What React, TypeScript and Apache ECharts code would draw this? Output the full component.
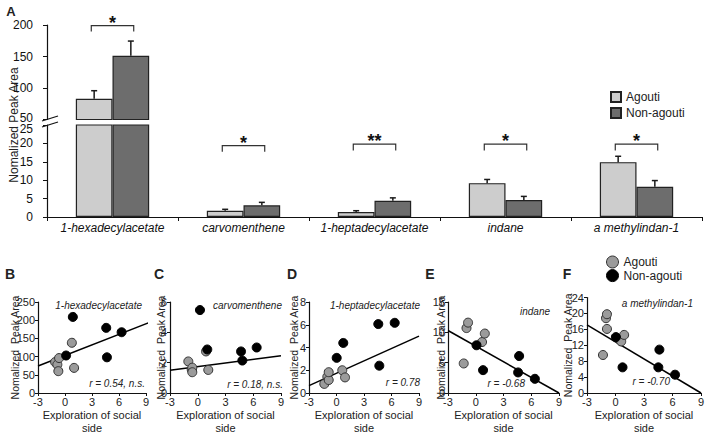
import React, { useEffect, useRef } from 'react';
import * as echarts from 'echarts';

const FONT = 'Liberation Sans, Arial, Helvetica, sans-serif';

// ---------- Panel A data ----------
const compounds = ['1-hexadecylacetate', 'carvomenthene', '1-heptadecylacetate', 'indane', 'a methylindan-1'];
const agoutiMean = [83, 1.71, 1.36, 9.2, 14.9];
const agoutiSem = [12.7, 0.38, 0.35, 1.0, 1.6];
const nonAgoutiMean = [151, 3.18, 4.4, 4.6, 8.2];
const nonAgoutiSem = [23.5, 0.8, 0.8, 1.0, 1.7];
const significance = ['*', '*', '**', '*', '*'];
const bracketTop = [199, 19.4, 19.8, 19.8, 19.8];
const bracketLeg = [189.5, 17.7, 18.1, 18.1, 18.1];
const upperTicks = [50, 100, 150, 200];
const lowerTicks = [0, 5, 10, 15, 20, 25];

// ---------- Panels B-F data ([exploration, peak area]) ----------
const hexAgouti = [[-1.1, 85], [-0.85, 78], [-0.74, 60], [-0.66, 96], [0.76, 138], [1.01, 69]];
const hexNonAgouti = [[0.12, 103], [0.87, 209], [4.58, 179], [4.66, 98], [6.29, 167]];
const hexFit = [[-3, 74], [9.6, 196]];

const carvoAgouti = [[-1.02, 2.08], [-0.65, 1.54], [-0.59, 1.67], [-0.59, 1.37], [0.89, 2.74], [1.14, 1.52]];
const carvoNonAgouti = [[0.24, 5.47], [1.03, 2.87], [4.68, 2.74], [4.82, 2.14], [6.37, 3.0]];
const carvoFit = [[-3, 1.5], [9, 2.45]];

const heptAgouti = [[-1.33, 0.8], [-1.0, 1.43], [-0.85, 1.14], [-0.85, 1.83], [0.63, 2.0], [0.93, 1.37]];
const heptNonAgouti = [[0.02, 3.09], [0.74, 4.4], [4.56, 6.06], [4.67, 2.4], [6.35, 6.17]];
const heptFit = [[-3, 0.65], [9, 5.0]];

const indAgouti = [[-1.3, 4.87], [-1.0, 10.7], [-0.83, 11.6], [0.68, 8.4], [0.98, 9.8]];
const indNonAgouti = [[0.08, 7.87], [0.79, 3.77], [4.58, 3.39], [4.69, 6.1], [6.39, 2.34]];
const indFit = [[-3, 10.3], [9, 0]];

const methAgouti = [[-1.32, 9.55], [-1.0, 18.8], [-0.9, 19.8], [-0.9, 16.1], [0.6, 12.95], [0.91, 14.6]];
const methNonAgouti = [[0.04, 14.05], [0.74, 6.45], [4.51, 6.45], [4.62, 10.9], [6.27, 4.6]];
const methFit = [[-3, 17.1], [9, 0]];

const xTicks = [-3, 0, 3, 6, 9];
const panelLetters = ['B', 'C', 'D', 'E', 'F'];
const rLabels = ['r = 0.54, n.s.', 'r = 0.18, n.s.', 'r = 0.78', 'r = -0.68', 'r = -0.70'];
const yMax = [250, 6, 8, 15, 24];
const yInterval = [50, 2, 2, 5, 4];
const agoutiSets = [hexAgouti, carvoAgouti, heptAgouti, indAgouti, methAgouti];
const nonAgoutiSets = [hexNonAgouti, carvoNonAgouti, heptNonAgouti, indNonAgouti, methNonAgouti];
const fitSets = [hexFit, carvoFit, heptFit, indFit, methFit];

// ---------- layout ----------
const layout = [
  { left: 38, top: 302, width: 108, height: 93, nameGap: 18, letterX: 10, titleRight: 142, titleY: 305, rRight: 145, rY: 383 },
  { left: 170, top: 302, width: 111, height: 93, nameGap: 4, letterX: 159, titleRight: 282, titleY: 305, rRight: 283, rY: 384 },
  { left: 309, top: 302, width: 110, height: 93, nameGap: 10, letterX: 292, titleRight: 420, titleY: 305, rRight: 420, rY: 382 },
  { left: 448, top: 302, width: 111, height: 92, nameGap: 2, letterX: 430, titleRight: 550, titleY: 311, rRight: 525, rY: 383 },
  { left: 587, top: 297.5, width: 114, height: 96, nameGap: 14, letterX: 567, titleRight: 693, titleY: 303, rRight: 670, rY: 381 },
];

const LIGHT = '#cdcdcd';
const DARK = '#6d6d6d';
const GRAYDOT = '#9b9b9b';

export default function App() {
  const ref = useRef<HTMLDivElement>(null);

  useEffect(() => {
    if (!ref.current) return;
    const chart = echarts.init(ref.current, null, { renderer: 'svg' });
    const upperMin = upperTicks[0];
    const upperMax = upperTicks[upperTicks.length - 1];
    const lowerMax = lowerTicks[lowerTicks.length - 1];

    const axisLine = { show: true, onZero: false, lineStyle: { color: '#111', width: 1.2 } };

    const errorRender = (params: any, api: any) => {
      const cat = api.value(0);
      const mean = api.value(1);
      const err = api.value(2);
      const side = api.value(3);
      const band = api.size([1, 0])[0];
      const base = api.coord([cat, mean]);
      const top = api.coord([cat, mean + err]);
      const x = base[0] + side * band * 0.14;
      const st = { stroke: '#1a1a1a', lineWidth: 1.5 };
      return {
        type: 'group',
        children: [
          { type: 'line', shape: { x1: x, y1: base[1], x2: x, y2: top[1] }, style: st },
          { type: 'line', shape: { x1: x - 3, y1: top[1], x2: x + 3, y2: top[1] }, style: st },
        ],
      };
    };

    const bracketRender = (params: any, api: any) => {
      const cat = api.value(0);
      const t = api.value(1);
      const l = api.value(2);
      const band = api.size([1, 0])[0];
      const pt = api.coord([cat, t]);
      const pl = api.coord([cat, l]);
      const hw = band * 0.162;
      return {
        type: 'group',
        children: [
          {
            type: 'polyline',
            shape: { points: [[pt[0] - hw, pl[1]], [pt[0] - hw, pt[1]], [pt[0] + hw, pt[1]], [pt[0] + hw, pl[1]]] },
            style: { stroke: '#333', lineWidth: 1.2, fill: 'none' },
          },
          {
            type: 'text',
            style: {
              text: significance[cat], x: pt[0], y: pt[1] - 3, align: 'center', verticalAlign: 'middle',
              fontSize: 18, fontWeight: 'bold', fontFamily: FONT, fill: '#111',
            },
          },
        ],
      };
    };

    const catIdx = compounds.map((_, i) => i);
    const errUpper: number[][] = [];
    const errLower: number[][] = [];
    catIdx.forEach((i) => {
      const a = [i, agoutiMean[i], agoutiSem[i], -1];
      const b = [i, nonAgoutiMean[i], nonAgoutiSem[i], 1];
      (agoutiMean[i] >= upperMin ? errUpper : errLower).push(a);
      (nonAgoutiMean[i] >= upperMin ? errUpper : errLower).push(b);
    });
    const brUpper = catIdx.filter((i) => bracketTop[i] > lowerMax).map((i) => [i, bracketTop[i], bracketLeg[i]]);
    const brLower = catIdx.filter((i) => bracketTop[i] <= lowerMax).map((i) => [i, bracketTop[i], bracketLeg[i]]);

    const grids: any[] = [
      { left: 47, top: 25, width: 655, height: 94.5 },
      { left: 47, top: 125, width: 655, height: 92 },
      ...layout.map((l) => ({ left: l.left, top: l.top, width: l.width, height: l.height })),
    ];

    const xAxes: any[] = [
      { type: 'category', gridIndex: 0, data: compounds, show: false },
      {
        type: 'category', gridIndex: 1, data: compounds,
        axisLine, axisTick: { show: true, length: 4, lineStyle: { color: '#111' } },
        axisLabel: { interval: 0, fontSize: 12, fontStyle: 'italic', color: '#111', margin: 5, fontFamily: FONT },
      },
      ...layout.map((l, i) => ({
        type: 'value', gridIndex: i + 2, min: xTicks[0], max: xTicks[xTicks.length - 1], interval: 3,
        axisLine, axisTick: { show: true, length: 3, lineStyle: { color: '#111' } },
        splitLine: { show: false },
        axisLabel: { fontSize: 11, color: '#222', margin: 3, fontFamily: FONT },
        name: 'Exploration of social\nside', nameLocation: 'middle', nameGap: 16, nameMoveOverlap: false,
        nameTextStyle: { fontSize: 11, color: '#222', lineHeight: 12.5, fontFamily: FONT },
      })),
    ];

    const yAxes: any[] = [
      {
        type: 'value', gridIndex: 0, min: upperMin, max: upperMax, interval: 50,
        axisLine, axisTick: { show: true, length: 4, lineStyle: { color: '#111' } },
        splitLine: { show: false },
        axisLabel: {
          fontSize: 12, color: '#111', margin: 14, fontFamily: FONT,
          formatter: (v: number) => (v === upperMin ? `{lo|${v}}` : `${v}`),
          rich: { lo: { fontSize: 12, color: '#111', fontFamily: FONT, padding: [0, 0, 3, 0] } },
        },
      },
      {
        type: 'value', gridIndex: 1, min: 0, max: lowerMax, interval: 5,
        axisLine, axisTick: { show: true, length: 4, lineStyle: { color: '#111' } },
        splitLine: { show: false },
        axisLabel: {
          fontSize: 12, color: '#111', margin: 14, fontFamily: FONT,
          formatter: (v: number) => (v === lowerMax ? `{hi|${v}}` : `${v}`),
          rich: { hi: { fontSize: 12, color: '#111', fontFamily: FONT, padding: [8, 0, 0, 0] } },
        },
      },
      ...layout.map((l, i) => ({
        type: 'value', gridIndex: i + 2, min: 0, max: yMax[i], interval: yInterval[i],
        axisLine, axisTick: { show: true, length: 3, lineStyle: { color: '#111' } },
        splitLine: { show: false },
        axisLabel: { fontSize: 11, color: '#222', margin: 3, fontFamily: FONT },
        name: 'Nomalized  Peak Area', nameLocation: 'middle', nameGap: l.nameGap, nameMoveOverlap: false,
        nameTextStyle: { fontSize: 10.5, color: '#222', fontFamily: FONT },
      })),
    ];

    const barCommon = { type: 'bar', barWidth: '28%', barGap: '0%', clip: true };
    const series: any[] = [
      { ...barCommon, name: 'Agouti', xAxisIndex: 0, yAxisIndex: 0, data: agoutiMean.map((v) => (v >= upperMin ? v : '-')), itemStyle: { color: LIGHT, borderColor: '#222', borderWidth: 1.2 } },
      { ...barCommon, name: 'Non-agouti', xAxisIndex: 0, yAxisIndex: 0, data: nonAgoutiMean.map((v) => (v >= upperMin ? v : '-')), itemStyle: { color: DARK, borderColor: '#222', borderWidth: 1.2 } },
      { ...barCommon, name: 'Agouti', xAxisIndex: 1, yAxisIndex: 1, data: agoutiMean, itemStyle: { color: LIGHT, borderColor: '#222', borderWidth: 1.2 } },
      { ...barCommon, name: 'Non-agouti', xAxisIndex: 1, yAxisIndex: 1, data: nonAgoutiMean, itemStyle: { color: DARK, borderColor: '#222', borderWidth: 1.2 } },
      { type: 'custom', xAxisIndex: 0, yAxisIndex: 0, data: errUpper, renderItem: errorRender, z: 5, silent: true },
      { type: 'custom', xAxisIndex: 1, yAxisIndex: 1, data: errLower, renderItem: errorRender, z: 5, silent: true },
      { type: 'custom', xAxisIndex: 0, yAxisIndex: 0, data: brUpper, renderItem: bracketRender, z: 5, silent: true },
      { type: 'custom', xAxisIndex: 1, yAxisIndex: 1, data: brLower, renderItem: bracketRender, z: 5, silent: true },
    ];

    layout.forEach((l, i) => {
      series.push({
        type: 'line', xAxisIndex: i + 2, yAxisIndex: i + 2, data: fitSets[i], symbol: 'none', clip: false,
        lineStyle: { color: '#000', width: 1.5 }, silent: true, z: 3,
      });
      series.push({
        type: 'scatter', name: 'Agouti', xAxisIndex: i + 2, yAxisIndex: i + 2, data: agoutiSets[i], symbolSize: 9,
        itemStyle: { color: GRAYDOT, borderColor: '#333', borderWidth: 1, opacity: 1 }, z: 4,
      });
      series.push({
        type: 'scatter', name: 'Non-agouti', xAxisIndex: i + 2, yAxisIndex: i + 2, data: nonAgoutiSets[i], symbolSize: 9,
        itemStyle: { color: '#000', borderColor: '#000', borderWidth: 1, opacity: 1 }, z: 5,
      });
    });

    const graphic: any[] = [
      { type: 'text', x: 11, y: 11, style: { text: 'A', fontSize: 13, fontWeight: 'bold', fontFamily: FONT, fill: '#222', align: 'center', verticalAlign: 'middle' } },
      { type: 'text', x: 14, y: 125, rotation: Math.PI / 2, style: { text: 'Nomalized Peak Area', fontSize: 12, fontFamily: FONT, fill: '#222', align: 'center', verticalAlign: 'middle' } },
      { type: 'line', shape: { x1: 42, y1: 121, x2: 58, y2: 116 }, style: { stroke: '#111', lineWidth: 1.2 } },
      { type: 'line', shape: { x1: 42, y1: 127, x2: 58, y2: 122 }, style: { stroke: '#111', lineWidth: 1.2 } },
    ];
    layout.forEach((l, i) => {
      graphic.push({ type: 'text', x: l.letterX, y: 273.5, style: { text: panelLetters[i], fontSize: 14, fontWeight: 'bold', fontFamily: FONT, fill: '#222', align: 'center', verticalAlign: 'middle' } });
      graphic.push({ type: 'text', x: l.titleRight, y: l.titleY, style: { text: compounds[i], fontSize: 10, fontStyle: 'italic', fontFamily: FONT, fill: '#222', align: 'right', verticalAlign: 'middle' } });
      graphic.push({ type: 'text', x: l.rRight, y: l.rY, style: { text: rLabels[i], fontSize: 10, fontStyle: 'italic', fontFamily: FONT, fill: '#222', align: 'right', verticalAlign: 'middle' } });
    });

    chart.setOption({
      animation: false,
      textStyle: { fontFamily: FONT },
      grid: grids,
      xAxis: xAxes,
      yAxis: yAxes,
      legend: [
        {
          orient: 'vertical', left: 610, top: 90, padding: 0, itemWidth: 10, itemHeight: 10, itemGap: 2, icon: 'rect', selectedMode: false,
          data: ['Agouti', 'Non-agouti'],
          textStyle: { fontSize: 12, color: '#222', lineHeight: 14, fontFamily: FONT },
        },
        {
          orient: 'vertical', left: 606, top: 255.5, padding: 0, itemWidth: 12, itemHeight: 12, itemGap: 0.6, selectedMode: false,
          data: [
            { name: 'Agouti', icon: 'circle', itemStyle: { color: GRAYDOT, borderColor: '#333', borderWidth: 1 } },
            { name: 'Non-agouti', icon: 'circle', itemStyle: { color: '#000', borderColor: '#000', borderWidth: 1 } },
          ],
          textStyle: { fontSize: 12, color: '#222', lineHeight: 12, fontFamily: FONT },
        },
      ],
      series,
      graphic,
    });

    return () => chart.dispose();
  }, []);

  return <div ref={ref} style={{ position: 'absolute', left: 0, top: 0, width: 708, height: 435, background: '#fff' }} />;
}
